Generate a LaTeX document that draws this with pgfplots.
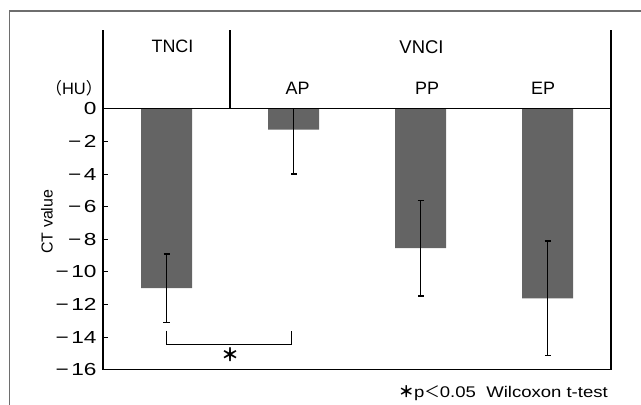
\documentclass[border=0pt]{standalone}
\usepackage{fontspec}
\usepackage{pgfplots}
\pgfplotsset{compat=1.18}
\setmainfont{Liberation Sans}
\newfontfamily\widefont[FakeStretch=1.2]{Liberation Sans}
\newfontfamily\tickfont[FakeStretch=1.3]{Liberation Sans}
\newfontfamily\cjk{Noto Sans CJK JP}
\definecolor{barcol}{HTML}{646464}
\definecolor{framecol}{HTML}{6E6E6E}
\begin{document}
\begin{tikzpicture}
\useasboundingbox (0,0) rectangle (641bp,-405bp);
\draw[framecol, line width=1.2bp] (9.7bp,-420bp) -- (9.7bp,-11bp) -- (660bp,-11bp);
\begin{axis}[
  at={(103bp,-369.7bp)}, anchor=south west,
  scale only axis, width=508bp, height=339.7bp,
  xmin=-0.5, xmax=3.5, ymin=-16, ymax=4.83,
  axis x line*=bottom, axis y line*=left,
  axis line style={line width=1.3bp, black},
  xtick=\empty,
  ytick={-16,-14,-12,-10,-8,-6,-4,-2,0},
  yticklabels={−\hspace{2.5bp}16,−\hspace{2.5bp}14,−\hspace{2.5bp}12,−\hspace{2.5bp}10,−\hspace{2.5bp}8,−\hspace{2.5bp}6,−\hspace{2.5bp}4,−\hspace{2.5bp}2,0},
  yticklabel style={font=\tickfont\fontsize{17.5}{18}\selectfont, xshift=-3bp},
  tick align=inside, major tick length=5bp,
  tick style={line width=1bp, black},
  clip=false,
  ybar, bar width=51bp,
]
\addplot[fill=barcol, draw=none,
  error bars/.cd, y dir=both, y explicit,
  error bar style={line width=1.4bp, black},
  error mark options={rotate=90, line width=1.4bp, mark size=3bp, black}]
  coordinates {
  (0,-11.0) +- (0,2.1)
  (1,-1.28) += (0,1.28) -= (0,2.72)
  (2,-8.55) +- (0,2.93)
  (3,-11.62) +- (0,3.5)
  };
\draw[line width=1.3bp, black] (axis cs:-0.5,0) -- (axis cs:3.5,0);
\draw[line width=1.3bp, black] (axis cs:3.5,4.83) -- (axis cs:3.5,-16);
\draw[line width=1.3bp, black] (axis cs:0.5,0) -- (axis cs:0.5,4.83);
\draw[line width=1bp, black] (axis cs:0,-13.6) -- (axis cs:0,-14.47) -- (axis cs:0.985,-14.47) -- (axis cs:0.985,-13.6);
\end{axis}
\node[anchor=base, inner sep=0pt, font=\fontsize{18}{20}\selectfont] at (172.5bp,-52.7bp) {TNCI};
\node[anchor=base, inner sep=0pt, font=\fontsize{18.5}{20}\selectfont] at (421.5bp,-53.3bp) {VNCI};
\node[anchor=base, inner sep=0pt, font=\fontsize{18}{20}\selectfont] at (297.5bp,-94.3bp) {AP};
\node[anchor=base, inner sep=0pt, font=\fontsize{18}{20}\selectfont] at (427bp,-94.3bp) {PP};
\node[anchor=base, inner sep=0pt, font=\fontsize{18}{20}\selectfont] at (543bp,-94.3bp) {EP};
\node[anchor=base, inner sep=0pt, font=\fontsize{16.5}{20}\selectfont] at (74bp,-94.3bp) {{\cjk （}HU{\cjk ）}};
\node[anchor=south, rotate=90, inner sep=0pt, font=\fontsize{16}{18}\selectfont] at (53bp,-221.7bp) {CT value};
\node[inner sep=0pt, font=\fontsize{18}{22}\selectfont] at (230bp,-355bp) {\cjk\bfseries ＊};
\node[anchor=base east, inner sep=0pt, font=\fontsize{15.5}{18}\selectfont] at (608bp,-397.7bp) {{\cjk\bfseries ＊}{\widefont p}{\cjk ＜}{\widefont 0.05\ \ Wilcoxon t-test}};
\end{tikzpicture}
\end{document}
